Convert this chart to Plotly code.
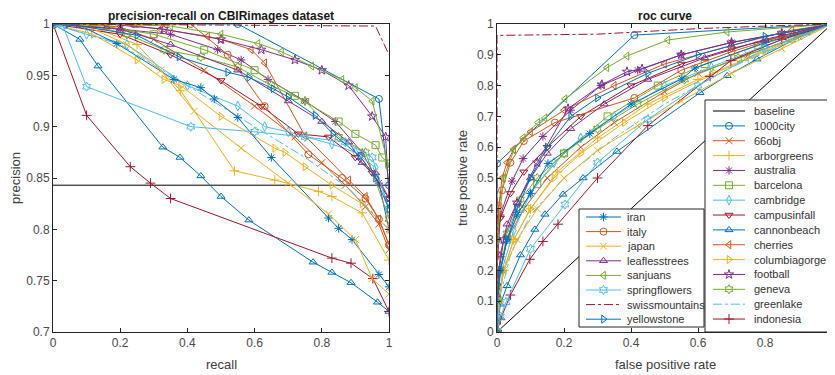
import plotly.graph_objects as go

# ---------------- data ----------------
names = ["baseline", "1000city", "66obj", "arborgreens", "australia", "barcelona", "cambridge",
         "campusinfall", "cannonbeach", "cherries", "columbiagorge", "football", "geneva",
         "greenlake", "indonesia", "iran", "italy", "japan", "leaflesstrees", "sanjuans",
         "springflowers", "swissmountains", "yellowstone"]

pr_x_baseline = [0, 1]
pr_y_baseline = [0.843, 0.843]
roc_x_baseline = [0, 1]
roc_y_baseline = [0, 1]

pr_x_1000city = [0, 0.08, 0.24, 0.55, 0.97, 1.0]
pr_y_1000city = [1, 1, 1, 1, 0.927, 0.843]
roc_x_1000city = [0, 0, 0, 0.41, 1.0]
roc_y_1000city = [0, 0.3, 0.547, 0.964, 1.0]

pr_x_66obj = [0, 0.1, 0.2, 0.3, 0.45, 0.6, 0.72, 0.8, 0.87, 0.93, 0.97, 1.0]
pr_y_66obj = [1, 1, 0.997, 0.985, 0.955, 0.92, 0.89, 0.865, 0.843, 0.822, 0.805, 0.78]
roc_x_66obj = [0, 0, 0.01, 0.03, 0.08, 0.15, 0.25, 0.35, 0.5, 0.6, 0.75, 0.9, 1.0]
roc_y_66obj = [0, 0.1, 0.2, 0.3, 0.4, 0.5, 0.6, 0.68, 0.78, 0.84, 0.9, 0.96, 1.0]

pr_x_arborgreens = [0, 0.12, 0.25, 0.38, 0.54, 0.66, 0.79, 0.83, 0.92, 1.0]
pr_y_arborgreens = [1, 0.997, 0.98, 0.935, 0.857, 0.848, 0.837, 0.832, 0.816, 0.77]
roc_x_arborgreens = [0, 0.005, 0.02, 0.05, 0.1, 0.18, 0.3, 0.45, 0.6, 0.75, 0.9, 1.0]
roc_y_arborgreens = [0, 0.1, 0.2, 0.3, 0.4, 0.52, 0.63, 0.74, 0.82, 0.89, 0.96, 1.0]

pr_x_australia = [0, 0.2, 0.35, 0.49, 0.56, 0.64, 0.75, 0.84, 0.92, 0.97, 1.0]
pr_y_australia = [1, 0.995, 0.99, 0.975, 0.965, 0.946, 0.925, 0.905, 0.875, 0.845, 0.80]
roc_x_australia = [0, 0, 0.01, 0.045, 0.078, 0.137, 0.22, 0.31, 0.42, 0.55, 0.7, 0.85, 1.0]
roc_y_australia = [0, 0.2, 0.38, 0.49, 0.563, 0.635, 0.72, 0.80, 0.85, 0.90, 0.94, 0.97, 1.0]

pr_x_barcelona = [0, 0.15, 0.3, 0.45, 0.6, 0.72, 0.85, 0.9, 0.96, 0.98, 1.0]
pr_y_barcelona = [1, 0.998, 0.99, 0.975, 0.955, 0.93, 0.905, 0.893, 0.882, 0.87, 0.864]
roc_x_barcelona = [0, 0.003, 0.01, 0.03, 0.07, 0.12, 0.2, 0.33, 0.48, 0.62, 0.78, 0.9, 1.0]
roc_y_barcelona = [0, 0.1, 0.2, 0.3, 0.4, 0.48, 0.58, 0.7, 0.8, 0.87, 0.93, 0.97, 1.0]

pr_x_cambridge = [0, 0.1, 0.22, 0.4, 0.55, 0.63, 0.7, 0.83, 0.9, 0.96, 1.0]
pr_y_cambridge = [1, 0.99, 0.98, 0.94, 0.92, 0.90, 0.895, 0.883, 0.875, 0.86, 0.82]
roc_x_cambridge = [0, 0.005, 0.02, 0.05, 0.1, 0.17, 0.25, 0.35, 0.5, 0.64, 0.8, 1.0]
roc_y_cambridge = [0, 0.1, 0.22, 0.33, 0.45, 0.55, 0.63, 0.7, 0.8, 0.86, 0.93, 1.0]

pr_x_campusinfall = [0, 0.2, 0.35, 0.5, 0.62, 0.73, 0.82, 0.9, 0.95, 1.0]
pr_y_campusinfall = [1, 0.99, 0.97, 0.945, 0.92, 0.893, 0.89, 0.87, 0.855, 0.83]
roc_x_campusinfall = [0, 0, 0, 0.01, 0.04, 0.08, 0.15, 0.25, 0.4, 0.55, 0.7, 0.85, 1.0]
roc_y_campusinfall = [0, 0.15, 0.3, 0.37, 0.45, 0.52, 0.6, 0.7, 0.8, 0.87, 0.92, 0.96, 1.0]

pr_x_cannonbeach = [0, 0.08, 0.134, 0.327, 0.378, 0.44, 0.5, 0.583, 0.774, 0.83, 0.887, 0.966, 1.0]
pr_y_cannonbeach = [1, 0.985, 0.959, 0.88, 0.87, 0.852, 0.832, 0.809, 0.768, 0.758, 0.748, 0.729, 0.72]
roc_x_cannonbeach = [0, 0.005, 0.01, 0.03, 0.07, 0.113, 0.143, 0.197, 0.257, 0.358, 0.606, 0.687, 0.776, 0.925, 1.0]
roc_y_cannonbeach = [0, 0.05, 0.09, 0.15, 0.25, 0.333, 0.382, 0.447, 0.50, 0.586, 0.777, 0.832, 0.886, 0.971, 1.0]

pr_x_cherries = [0, 0.2, 0.32, 0.46, 0.5, 0.59, 0.63, 0.75, 0.88, 0.93, 0.97, 1.0]
pr_y_cherries = [1, 1, 0.995, 0.988, 0.985, 0.975, 0.962, 0.891, 0.848, 0.832, 0.81, 0.785]
roc_x_cherries = [0, 0, 0.005, 0.015, 0.03, 0.05, 0.1, 0.2, 0.35, 0.5, 0.7, 0.88, 1.0]
roc_y_cherries = [0, 0.25, 0.4, 0.5, 0.55, 0.594, 0.65, 0.72, 0.8, 0.87, 0.93, 0.98, 1.0]

pr_x_columbiagorge = [0, 0.12, 0.25, 0.33, 0.38, 0.5, 0.66, 0.69, 0.75, 0.83, 0.92, 1.0]
pr_y_columbiagorge = [1, 0.99, 0.965, 0.946, 0.94, 0.91, 0.879, 0.875, 0.861, 0.843, 0.825, 0.80]
roc_x_columbiagorge = [0, 0.005, 0.02, 0.05, 0.1, 0.17, 0.25, 0.38, 0.5, 0.65, 0.8, 1.0]
roc_y_columbiagorge = [0, 0.1, 0.2, 0.3, 0.4, 0.5, 0.58, 0.68, 0.76, 0.84, 0.91, 1.0]

pr_x_football = [0, 0.16, 0.33, 0.5, 0.62, 0.72, 0.8, 0.88, 0.95, 0.99, 1.0]
pr_y_football = [1, 1, 0.995, 0.985, 0.975, 0.965, 0.955, 0.94, 0.91, 0.89, 0.83]
roc_x_football = [0, 0, 0.02, 0.06, 0.12, 0.212, 0.313, 0.388, 0.433, 0.55, 0.7, 0.85, 1.0]
roc_y_football = [0, 0.15, 0.3, 0.42, 0.55, 0.725, 0.803, 0.845, 0.854, 0.9, 0.94, 0.97, 1.0]

pr_x_geneva = [0, 0.1, 0.22, 0.33, 0.44, 0.55, 0.65, 0.75, 0.85, 0.93, 1.0]
pr_y_geneva = [1, 1, 0.99, 0.975, 0.968, 0.958, 0.94, 0.925, 0.89, 0.875, 0.81]
roc_x_geneva = [0, 0.003, 0.01, 0.03, 0.07, 0.12, 0.2, 0.3, 0.42, 0.56, 0.72, 0.88, 1.0]
roc_y_geneva = [0, 0.1, 0.2, 0.32, 0.43, 0.5, 0.58, 0.66, 0.74, 0.82, 0.89, 0.95, 1.0]

pr_x_greenlake = [0, 0.2, 0.4, 0.6, 0.75, 0.88, 1.0]
pr_y_greenlake = [1, 0.98, 0.94, 0.9, 0.87, 0.84, 0.80]
roc_x_greenlake = [0, 0.01, 0.04, 0.1, 0.2, 0.35, 0.5, 0.7, 1.0]
roc_y_greenlake = [0, 0.12, 0.25, 0.38, 0.5, 0.63, 0.74, 0.86, 1.0]

pr_x_indonesia = [0, 0.10, 0.23, 0.29, 0.35, 0.83, 0.887, 0.952, 1.0]
pr_y_indonesia = [1, 0.911, 0.861, 0.845, 0.830, 0.772, 0.767, 0.752, 0.72]
roc_x_indonesia = [0, 0.01, 0.04, 0.098, 0.137, 0.182, 0.3, 0.45, 0.636, 0.698, 0.85, 1.0]
roc_y_indonesia = [0, 0.04, 0.12, 0.236, 0.294, 0.35, 0.5, 0.67, 0.83, 0.881, 0.95, 1.0]

pr_x_iran = [0, 0.07, 0.19, 0.36, 0.44, 0.48, 0.55, 0.65, 0.82, 0.85, 0.89, 0.97, 1.0]
pr_y_iran = [1, 1, 0.981, 0.946, 0.938, 0.927, 0.909, 0.870, 0.811, 0.801, 0.790, 0.756, 0.744]
roc_x_iran = [0, 0, 0.01, 0.03, 0.06, 0.1, 0.152, 0.277, 0.4, 0.552, 0.591, 0.8, 1.0]
roc_y_iran = [0, 0.1, 0.2, 0.3, 0.38, 0.45, 0.547, 0.644, 0.74, 0.822, 0.857, 0.94, 1.0]

pr_x_italy = [0, 0.12, 0.25, 0.41, 0.52, 0.63, 0.76, 0.86, 0.93, 0.97, 1.0]
pr_y_italy = [1, 1, 1, 1, 0.97, 0.92, 0.873, 0.85, 0.83, 0.81, 0.785]
roc_x_italy = [0, 0, 0.005, 0.015, 0.04, 0.08, 0.173, 0.41, 0.55, 0.7, 0.85, 1.0]
roc_y_italy = [0, 0.2, 0.41, 0.46, 0.55, 0.62, 0.68, 0.76, 0.85, 0.91, 0.96, 1.0]

pr_x_japan = [0, 0.1, 0.22, 0.32, 0.42, 0.56, 0.7, 0.82, 0.9, 0.95, 1.0]
pr_y_japan = [1, 0.998, 0.98, 0.955, 0.915, 0.879, 0.845, 0.815, 0.79, 0.752, 0.737]
roc_x_japan = [0, 0.005, 0.02, 0.06, 0.12, 0.2, 0.3, 0.42, 0.55, 0.7, 0.85, 1.0]
roc_y_japan = [0, 0.1, 0.2, 0.3, 0.4, 0.5, 0.59, 0.67, 0.75, 0.84, 0.92, 1.0]

pr_x_leaflesstrees = [0, 0.2, 0.35, 0.55, 0.7, 0.8, 0.88, 0.92, 0.96, 1.0]
pr_y_leaflesstrees = [1, 0.995, 0.98, 0.955, 0.925, 0.905, 0.885, 0.865, 0.855, 0.83]
roc_x_leaflesstrees = [0, 0, 0.01, 0.03, 0.06, 0.1, 0.15, 0.22, 0.32, 0.45, 0.62, 0.8, 1.0]
roc_y_leaflesstrees = [0, 0.12, 0.25, 0.35, 0.42, 0.5, 0.58, 0.66, 0.74, 0.82, 0.89, 0.95, 1.0]

pr_x_sanjuans = [0, 0.17, 0.35, 0.5, 0.61, 0.68, 0.77, 0.86, 0.9, 0.95, 1.0]
pr_y_sanjuans = [1, 1, 0.998, 0.99, 0.981, 0.973, 0.959, 0.946, 0.938, 0.925, 0.86]
roc_x_sanjuans = [0, 0, 0.02, 0.05, 0.078, 0.122, 0.143, 0.203, 0.328, 0.388, 0.51, 0.687, 1.0]
roc_y_sanjuans = [0, 0.3, 0.5, 0.59, 0.631, 0.68, 0.695, 0.757, 0.858, 0.896, 0.948, 0.974, 1.0]

pr_x_springflowers = [0, 0.03, 0.10, 0.41, 0.6, 0.75, 0.87, 0.95, 1.0]
pr_y_springflowers = [1, 0.998, 0.939, 0.90, 0.895, 0.89, 0.885, 0.87, 0.82]
roc_x_springflowers = [0, 0.01, 0.027, 0.1, 0.203, 0.3, 0.45, 0.6, 0.8, 1.0]
roc_y_springflowers = [0, 0.05, 0.097, 0.27, 0.414, 0.55, 0.69, 0.8, 0.92, 1.0]

pr_x_swissmountains = [0, 0.96, 1.0]
pr_y_swissmountains = [1, 0.998, 0.97]
roc_x_swissmountains = [0, 0, 0.3, 0.6, 0.85, 1.0]
roc_y_swissmountains = [0, 0.963, 0.967, 0.985, 0.995, 1.0]

pr_x_yellowstone = [0, 0.045, 0.25, 0.375, 0.52, 0.583, 0.655, 0.70, 0.78, 0.833, 0.914, 0.96, 1.0]
pr_y_yellowstone = [1, 1, 0.989, 0.968, 0.953, 0.948, 0.937, 0.929, 0.911, 0.893, 0.871, 0.85, 0.82]
roc_x_yellowstone = [0, 0, 0.01, 0.03, 0.06, 0.1, 0.15, 0.22, 0.3, 0.45, 0.6, 0.8, 1.0]
roc_y_yellowstone = [0, 0.1, 0.2, 0.3, 0.4, 0.5, 0.6, 0.7, 0.76, 0.84, 0.9, 0.96, 1.0]

pr_xticks = [0, 0.2, 0.4, 0.6, 0.8, 1]
pr_xticklabels = ["0", "0.2", "0.4", "0.6", "0.8", "1"]
pr_yticks = [0.7, 0.75, 0.8, 0.85, 0.9, 0.95, 1]
pr_yticklabels = ["0.7", "0.75", "0.8", "0.85", "0.9", "0.95", "1"]
roc_yticks = [0, 0.1, 0.2, 0.3, 0.4, 0.5, 0.6, 0.7, 0.8, 0.9, 1]
roc_yticklabels = ["0", "0.1", "0.2", "0.3", "0.4", "0.5", "0.6", "0.7", "0.8", "0.9", "1"]

legend1_names = names[:15]
legend2_names = names[15:]

# ---------------- styles ----------------
BLUE, ORANGE, YELLOW, PURPLE, GREEN, LBLUE, DRED = (
    "#0072BD", "#D95319", "#EDB120", "#7E2F8E", "#77AC30", "#4DBEEE", "#A2142F")
styles = {
    "baseline": ("#000000", None, "solid"),
    "1000city": (BLUE, "circle-open", "solid"),
    "66obj": (ORANGE, "x-thin-open", "solid"),
    "arborgreens": (YELLOW, "cross-thin-open", "solid"),
    "australia": (PURPLE, "asterisk-open", "solid"),
    "barcelona": (GREEN, "square-open", "solid"),
    "cambridge": (LBLUE, "diamond-tall-open", "solid"),
    "campusinfall": (DRED, "triangle-down-open", "solid"),
    "cannonbeach": (BLUE, "triangle-up-open", "solid"),
    "cherries": (ORANGE, "triangle-left-open", "solid"),
    "columbiagorge": (YELLOW, "triangle-right-open", "solid"),
    "football": (PURPLE, "star-open", "solid"),
    "geneva": (GREEN, "hexagram-open", "solid"),
    "greenlake": (LBLUE, None, "dashdot"),
    "indonesia": (DRED, "cross-thin-open", "solid"),
    "iran": (BLUE, "asterisk-open", "solid"),
    "italy": (ORANGE, "circle-open", "solid"),
    "japan": (YELLOW, "x-thin-open", "solid"),
    "leaflesstrees": (PURPLE, "triangle-up-open", "solid"),
    "sanjuans": (GREEN, "triangle-left-open", "solid"),
    "springflowers": (LBLUE, "hexagram-open", "solid"),
    "swissmountains": (DRED, None, "dashdot"),
    "yellowstone": (BLUE, "triangle-right-open", "solid"),
}

W, H = 835, 375
OFF = 8  # page body margin: the figure div starts 8px in from the window corner
AX = "#262626"
FONT = "Liberation Sans, Arial, sans-serif"
MSIZE = 7

def px_x(p):
    return (p - OFF) / W

def px_y(p):
    return 1 - (p - OFF) / H

def mk(color, sym):
    return dict(symbol=sym or "circle", size=MSIZE, color=color,
                line=dict(color=color, width=1))

g = globals()
fig = go.Figure()
for nm in names:
    color, sym, dash = styles[nm]
    mode = "lines" if sym is None else "lines+markers"
    for pre, xa, ya in (("pr_", "x", "y"), ("roc_", "x2", "y2")):
        fig.add_trace(go.Scatter(
            x=g[pre + "x_" + nm], y=g[pre + "y_" + nm], mode=mode, name=nm,
            line=dict(color=color, width=1, dash=dash), marker=mk(color, sym),
            xaxis=xa, yaxis=ya, showlegend=False, hoverinfo="skip"))

# ---------------- manual legends (screen-pixel overlay axis) ----------------
annotations = []
legend_boxes = [
    # (names, left, right, top, bottom, first row y, row step, line x0, line x1, text x)
    (legend1_names, 705, 832, 100, 332, 111, 14.86, 713, 745, 752),
    (legend2_names, 579, 704, 209, 327, 217, 14.6, 586, 621, 625),
]
for lnames, L, R, T, B, y0, step, lx0, lx1, tx in legend_boxes:
    fig.add_trace(go.Scatter(x=[L, R, R, L, L], y=[T, T, B, B, T], mode="lines",
                             fill="toself", fillcolor="white",
                             line=dict(color=AX, width=1), xaxis="x3", yaxis="y3",
                             showlegend=False, hoverinfo="skip"))
    for i, nm in enumerate(lnames):
        color, sym, dash = styles[nm]
        yc = y0 + i * step
        fig.add_trace(go.Scatter(x=[lx0, lx1], y=[yc, yc], mode="lines",
                                 line=dict(color=color, width=1, dash=dash),
                                 xaxis="x3", yaxis="y3", showlegend=False, hoverinfo="skip"))
        if sym is not None:
            fig.add_trace(go.Scatter(x=[(lx0 + lx1) / 2], y=[yc], mode="markers",
                                     marker=mk(color, sym), xaxis="x3", yaxis="y3",
                                     showlegend=False, hoverinfo="skip"))
        annotations.append(dict(text=nm, x=px_x(tx), y=px_y(yc), xref="paper", yref="paper",
                                xanchor="left", yanchor="middle", showarrow=False,
                                font=dict(family=FONT, size=11, color="#333333")))

axcommon = dict(showline=True, linecolor=AX, linewidth=1, mirror="allticks",
                ticks="inside", ticklen=4, tickcolor=AX, showgrid=False,
                zeroline=False, automargin=False,
                tickfont=dict(family=FONT, size=12, color="#4a4a4a"))

ydom = [px_y(332), px_y(24)]

def lab(text, xpx, ypx, size, color, angle=0):
    return dict(text=text, x=px_x(xpx), y=px_y(ypx), xref="paper", yref="paper",
                xanchor="center", yanchor="middle", showarrow=False, textangle=angle,
                font=dict(family=FONT, size=size, color=color))

annotations += [
    lab("<b>precision-recall on CBIRimages dataset</b>", 221, 16, 12, "#1a1a1a"),
    lab("<b>roc curve</b>", 665, 16, 12, "#1a1a1a"),
    lab("recall", 221, 364, 13, "#404040"),
    lab("false positive rate", 665, 364, 13, "#404040"),
    lab("precision", 15, 178, 13, "#404040", -90),
    lab("true positive rate", 462, 178, 13, "#404040", -90),
]

fig.update_layout(
    width=W, height=H, margin=dict(l=0, r=0, t=0, b=0, pad=0, autoexpand=False),
    paper_bgcolor="white", plot_bgcolor="rgba(0,0,0,0)",
    font=dict(family=FONT, color=AX), showlegend=False,
    xaxis=dict(domain=[px_x(53), px_x(389)], range=[0, 1], tickvals=pr_xticks,
               ticktext=pr_xticklabels, anchor="y", **axcommon),
    yaxis=dict(domain=ydom, range=[0.7, 1], tickvals=pr_yticks,
               ticktext=pr_yticklabels, anchor="x", **axcommon),
    xaxis2=dict(domain=[px_x(497), px_x(832)], range=[0, 1], tickvals=pr_xticks,
                ticktext=pr_xticklabels, anchor="y2", **axcommon),
    yaxis2=dict(domain=ydom, range=[0, 1], tickvals=roc_yticks,
                ticktext=roc_yticklabels, anchor="x2", **axcommon),
    xaxis3=dict(domain=[0, 1], range=[OFF, W + OFF], visible=False, anchor="y3",
                automargin=False),
    yaxis3=dict(domain=[0, 1], range=[H + OFF, OFF], visible=False, anchor="x3",
                automargin=False),
    annotations=annotations,
)

fig.write_html("out.html")
